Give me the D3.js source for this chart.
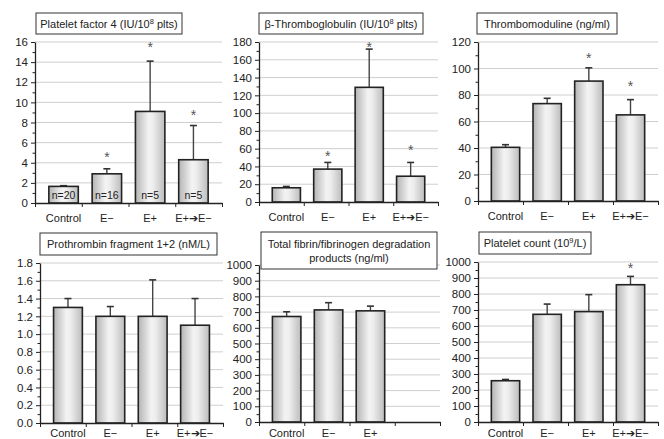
<!DOCTYPE html>
<html>
<head>
<meta charset="UTF-8">
<script src="https://d3js.org/d3.v7.min.js"></script>
<style>
  body { margin: 0; background: #fff; }
  text { font-family: "Liberation Sans", Arial, sans-serif; fill: #222; }
</style>
</head>
<body>
<div id="chart"></div>
<script>

// categories shared by all six panels
var categories = ["Control", "E\u2212", "E+", "E+\u2794E\u2212"];
var nLabels = ["n=20", "n=16", "n=5", "n=5"];

// Platelet factor 4  (star = height of the asterisk in data units, null = none)
var pf4Mean = [1.65, 2.9, 9.1, 4.3];
var pf4Err  = [1.72, 3.4, 14.1, 7.7];
var pf4Star = [null, 4.9, 15.8, 9.0];

// beta-thromboglobulin
var btgMean = [16, 37, 129, 29];
var btgErr  = [17.5, 44.5, 172, 44.5];
var btgStar = [null, 54.6, 178, 62];

// thrombomoduline
var tmMean = [40.5, 73.5, 90.5, 65];
var tmErr  = [42.5, 77.5, 100.5, 76.5];
var tmStar = [null, null, 110.5, 89.4];

// prothrombin fragment 1+2
var f12Mean = [1.3, 1.2, 1.2, 1.1];
var f12Err  = [1.4, 1.31, 1.61, 1.4];
var f12Star = [null, null, null, null];

// total fibrin/fibrinogen degradation products (no value for last group)
var fdpMean = [672, 714, 708];
var fdpErr  = [702, 760, 738];
var fdpStar = [null, null, null];

// platelet count
var pltMean = [258, 673, 690, 858];
var pltErr  = [266, 737, 796, 910];
var pltStar = [null, null, null, 983];

// y axis: max and step
var yMax   = [16, 180, 120, 1.8, 1000, 1000];
var yStep  = [2, 20, 20, 0.2, 100, 100];

var panels = [
  {title: [["Platelet factor 4 (IU/10", "8", " plts)"]], mean: pf4Mean, err: pf4Err, star: pf4Star, n: nLabels, fmt: "d"},
  {title: [["\u03b2-Thromboglobulin (IU/10", "8", " plts)"]], mean: btgMean, err: btgErr, star: btgStar, fmt: "d"},
  {title: [["Thrombomoduline (ng/ml)"]], mean: tmMean, err: tmErr, star: tmStar, fmt: "d"},
  {title: [["Prothrombin fragment 1+2 (nM/L)"]], mean: f12Mean, err: f12Err, star: f12Star, fmt: ".1f"},
  {title: [["Total fibrin/fibrinogen degradation"], ["products (ng/ml)"]], mean: fdpMean, err: fdpErr, star: fdpStar, fmt: "d"},
  {title: [["Platelet count (10", "9", "/L)"]], mean: pltMean, err: pltErr, star: pltStar, fmt: "d"}
];

// layout of each panel: plot area [left, top, right, bottom], title box [x, y, w, h], label offset
var layout = [
  {plot: [35, 42, 222, 203], box: [36, 13, 146, 21], lab: 19},
  {plot: [259, 42, 438, 202], box: [259, 13, 164, 21], lab: 19},
  {plot: [478, 42, 658, 201], box: [477, 13, 140, 21], lab: 19},
  {plot: [40, 263, 223, 423], box: [40, 233, 177, 22], lab: 14},
  {plot: [259, 265, 440, 422], box: [261, 232, 176, 37], lab: 15},
  {plot: [478, 262, 658, 422], box: [479, 232, 112, 22], lab: 15}
];

var svg = d3.select("#chart").append("svg")
  .attr("width", 664)
  .attr("height", 439);

var defs = svg.append("defs");
var grad = defs.append("linearGradient").attr("id", "barfill")
  .attr("x1", "0%").attr("x2", "100%").attr("y1", "0%").attr("y2", "0%");
grad.append("stop").attr("offset", "0%").attr("stop-color", "#b4b4b4");
grad.append("stop").attr("offset", "45%").attr("stop-color", "#f3f3f3");
grad.append("stop").attr("offset", "60%").attr("stop-color", "#ededed");
grad.append("stop").attr("offset", "100%").attr("stop-color", "#bcbcbc");

panels.forEach(function(p, i) {
  var L = layout[i];
  var x0 = L.plot[0], y0 = L.plot[1], x1 = L.plot[2], y1 = L.plot[3];
  var g = svg.append("g");

  var x = d3.scaleBand().domain(categories).range([x0, x1]).padding(0.32);
  var xEdge = d3.scaleLinear().domain([0, categories.length]).range([x0, x1]);
  var y = d3.scaleLinear().domain([0, yMax[i]]).range([y1, y0]);

  var major = d3.range(0, yMax[i] + yStep[i] / 2, yStep[i]);
  var minor = d3.range(yStep[i] / 2, yMax[i], yStep[i]);

  // gridlines
  g.selectAll(".grid").data(major.slice(1)).enter().append("line")
    .attr("x1", x0).attr("x2", x1)
    .attr("y1", function(d) { return y(d); })
    .attr("y2", function(d) { return y(d); })
    .style("stroke", "#cfcfcf")
    .style("stroke-width", 1);

  var data = p.mean.map(function(m, j) { return {cat: categories[j], m: m, e: p.err[j], s: p.star[j], j: j}; });

  // error bars (upper only)
  g.selectAll(".err").data(data).enter().append("line")
    .attr("x1", function(d) { return x(d.cat) + x.bandwidth() / 2; })
    .attr("x2", function(d) { return x(d.cat) + x.bandwidth() / 2; })
    .attr("y1", function(d) { return y(d.m); })
    .attr("y2", function(d) { return y(d.e); })
    .style("stroke", "#444").style("stroke-width", 1.4);

  g.selectAll(".cap").data(data).enter().append("line")
    .attr("x1", function(d) { return x(d.cat) + x.bandwidth() / 2 - 3.5; })
    .attr("x2", function(d) { return x(d.cat) + x.bandwidth() / 2 + 3.5; })
    .attr("y1", function(d) { return y(d.e); })
    .attr("y2", function(d) { return y(d.e); })
    .style("stroke", "#333").style("stroke-width", 1.6);

  // bars
  g.selectAll(".bar").data(data).enter().append("rect")
    .attr("x", function(d) { return x(d.cat); })
    .attr("y", function(d) { return y(d.m); })
    .attr("width", x.bandwidth())
    .attr("height", function(d) { return y(0) - y(d.m); })
    .style("fill", "url(#barfill)")
    .style("stroke", "#222")
    .style("stroke-width", 1.6);

  // significance asterisks
  g.selectAll(".star").data(data.filter(function(d) { return d.s != null; })).enter().append("text")
    .attr("x", function(d) { return x(d.cat) + x.bandwidth() / 2; })
    .attr("y", function(d) { return y(d.s) + 8; })
    .attr("text-anchor", "middle")
    .style("font-size", "14px")
    .style("fill", "#555")
    .text("*");

  // n labels inside bars
  if (p.n) {
    g.selectAll(".nlab").data(data).enter().append("text")
      .attr("x", function(d) { return x(d.cat) + x.bandwidth() / 2; })
      .attr("y", y1 - 4)
      .attr("text-anchor", "middle")
      .style("font-size", "10.5px")
      .text(function(d) { return p.n[d.j]; });
  }

  // y axis with minor ticks
  var yAxis = g.append("g")
    .attr("transform", "translate(" + x0 + ",0)")
    .call(d3.axisLeft(y).tickValues(major).tickSize(4).tickSizeOuter(0).tickPadding(3)
      .tickFormat(d3.format(p.fmt)));
  yAxis.selectAll("text").style("font-size", "11.5px").style("fill", "#222")
    .style("font-family", "'Liberation Sans', Arial, sans-serif");
  yAxis.selectAll("line").style("stroke", "#222");
  yAxis.select(".domain").style("stroke", "#222").style("stroke-width", 1.3);

  var yMinor = g.append("g")
    .attr("transform", "translate(" + x0 + ",0)")
    .call(d3.axisLeft(y).tickValues(minor).tickSize(2.5).tickSizeOuter(0).tickFormat(""));
  yMinor.select(".domain").remove();
  yMinor.selectAll("line").style("stroke", "#222");

  // x axis: ticks at category boundaries
  var xAxis = g.append("g")
    .attr("transform", "translate(0," + y1 + ")")
    .call(d3.axisBottom(xEdge).tickValues(d3.range(0, categories.length + 1)).tickSize(4)
      .tickSizeOuter(0).tickFormat(""));
  xAxis.selectAll("line").style("stroke", "#222");
  xAxis.select(".domain").style("stroke", "#222").style("stroke-width", 1.3);

  g.selectAll(".xlab").data(categories.slice(0, p.mean.length)).enter().append("text")
    .attr("x", function(d) { return x(d) + x.bandwidth() / 2; })
    .attr("y", y1 + L.lab)
    .attr("text-anchor", "middle")
    .style("font-size", "11px")
    .text(function(d) { return d; });

  // title box
  var b = L.box;
  g.append("rect")
    .attr("x", b[0]).attr("y", b[1]).attr("width", b[2]).attr("height", b[3])
    .style("fill", "#fff").style("stroke", "#333").style("stroke-width", 1);

  var lineH = 14;
  var firstY = b[1] + b[3] / 2 - (p.title.length - 1) * lineH / 2 + 4;
  p.title.forEach(function(parts, k) {
    var t = g.append("text")
      .attr("x", b[0] + b[2] / 2)
      .attr("y", firstY + k * lineH)
      .attr("text-anchor", "middle")
      .style("font-size", "11px");
    t.append("tspan").text(parts[0]);
    if (parts.length > 1) {
      t.append("tspan").attr("dy", -4).style("font-size", "7.5px").text(parts[1]);
      t.append("tspan").attr("dy", 4).text(parts[2]);
    }
  });
});

</script>
</body>
</html>
